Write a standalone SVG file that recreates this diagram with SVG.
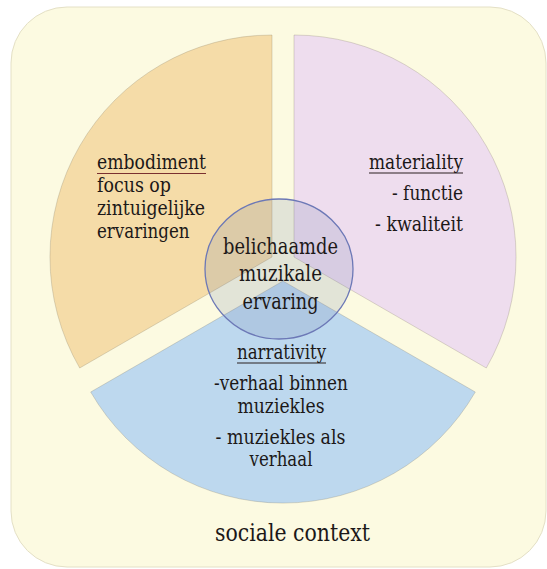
<svg xmlns="http://www.w3.org/2000/svg" width="547" height="569" viewBox="0 0 547 569">
  <style>
    text { font-family: 'DejaVu Serif', serif; }
    .t { font-size: 20.5px; fill: #1c1818; }
    .c { font-size: 22px; text-anchor: middle; }
    .m { text-anchor: middle; }
    .e { text-anchor: end; }
    .big { font-size: 25px; text-anchor: middle; }
    .ul { stroke: #2a2020; stroke-width: 1.2; }
    .sec { stroke: rgba(120,110,90,0.25); stroke-width: 1; }
  </style>
  <rect x="0" y="0" width="547" height="569" fill="#ffffff"/>
  <g id="social-context">
    <rect x="11" y="7" width="535" height="560" rx="56" ry="56" fill="#FCFAE1" stroke="#e4e0c6" stroke-width="1"/>
    <text class="t big" x="292.5" y="541" textLength="155" lengthAdjust="spacingAndGlyphs">sociale context</text>
  </g>
  <g id="embodiment">
    <path class="sec" d="M272,257 L272,35 A222,222 0 0 0 79.7,368 Z" fill="#F5DCA8"/>
    <text class="t" x="97" y="169" textLength="109" lengthAdjust="spacingAndGlyphs">embodiment</text>
    <line class="ul" x1="97" y1="173.5" x2="206" y2="173.5" style="stroke:#7a3030"/>
    <text class="t" x="97" y="192" textLength="74" lengthAdjust="spacingAndGlyphs">focus op</text>
    <text class="t" x="97" y="215" textLength="108" lengthAdjust="spacingAndGlyphs">zintuigelijke</text>
    <text class="t" x="97" y="238" textLength="92.5" lengthAdjust="spacingAndGlyphs">ervaringen</text>
  </g>
  <g id="materiality">
    <path class="sec" d="M294,257 L294,35 A222,222 0 0 1 486.3,368 Z" fill="#EEDDEE"/>
    <text class="t e" x="463" y="168.5" textLength="94" lengthAdjust="spacingAndGlyphs">materiality</text>
    <line class="ul" x1="369" y1="173" x2="463" y2="173"/>
    <text class="t e" x="463" y="200" textLength="71" lengthAdjust="spacingAndGlyphs">- functie</text>
    <text class="t e" x="463" y="230.5" textLength="88" lengthAdjust="spacingAndGlyphs">- kwaliteit</text>
  </g>
  <g id="narrativity">
    <path class="sec" d="M283,281 L90.7,392 A222,222 0 0 0 475.3,392 Z" fill="#BDD8EE"/>
    <text class="t m" x="281.5" y="359" textLength="89" lengthAdjust="spacingAndGlyphs">narrativity</text>
    <line class="ul" x1="237" y1="363" x2="326" y2="363"/>
    <text class="t m" x="281" y="390" textLength="134" lengthAdjust="spacingAndGlyphs">-verhaal binnen</text>
    <text class="t m" x="281" y="413" textLength="87" lengthAdjust="spacingAndGlyphs">muziekles</text>
    <text class="t m" x="280.5" y="444" textLength="130" lengthAdjust="spacingAndGlyphs">- muziekles als</text>
    <text class="t m" x="281" y="466" textLength="63" lengthAdjust="spacingAndGlyphs">verhaal</text>
  </g>
  <g id="core">
    <ellipse cx="279" cy="269" rx="74" ry="70" fill="rgba(110,125,170,0.18)" stroke="#6c78b6" stroke-width="1.3"/>
    <text class="t c" x="280.5" y="254" textLength="115" lengthAdjust="spacingAndGlyphs">belichaamde</text>
    <text class="t c" x="280.5" y="281" textLength="83" lengthAdjust="spacingAndGlyphs">muzikale</text>
    <text class="t c" x="280.5" y="309" textLength="76" lengthAdjust="spacingAndGlyphs">ervaring</text>
  </g>
</svg>
